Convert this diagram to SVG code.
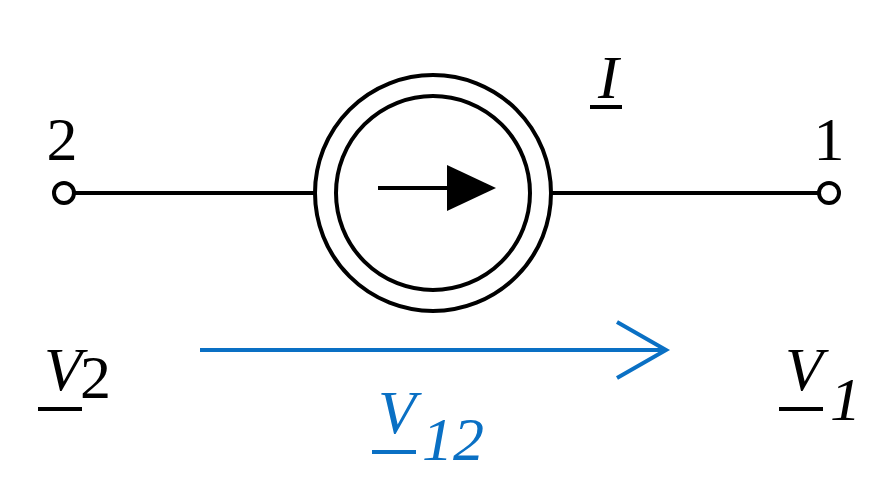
<svg xmlns="http://www.w3.org/2000/svg" width="881" height="486" viewBox="0 0 881 486">
<style>
.w{stroke:#000;stroke-width:4;fill:none}
.t{font-family:"Liberation Serif",serif;font-size:62px}
.i{font-style:italic}
.b{fill:#0a70c4}
</style>
<rect width="881" height="486" fill="#fff"/>
<g id="connectors">
<line class="w" x1="74" y1="193" x2="315" y2="193"/>
<line class="w" x1="551" y1="193" x2="819" y2="193"/>
<line x1="200" y1="350" x2="666" y2="350" stroke="#0a70c4" stroke-width="4"/>
<polyline points="617,322 666,350 617,378" fill="none" stroke="#0a70c4" stroke-width="4"/>
</g>
<g id="source">
<circle class="w" cx="433" cy="193" r="118"/>
<circle class="w" cx="433" cy="193" r="97"/>
<line class="w" x1="378" y1="188" x2="452" y2="188"/>
<polygon points="447,165 496,188 447,211" fill="#000"/>
</g>
<g id="term2"><circle class="w" cx="64" cy="193" r="10" fill="#fff"/><text class="t" x="62" y="160" text-anchor="middle">2</text></g>
<g id="term1"><circle class="w" cx="829" cy="193" r="10" fill="#fff"/><text class="t" x="829" y="160" text-anchor="middle">1</text></g>
<g id="labelI"><text class="t i" x="598" y="98">I</text><line class="w" x1="590" y1="107" x2="622" y2="107"/></g>
<g id="labelV2"><text class="t i" x="44" y="390">V</text><text class="t" x="80" y="398" font-size="42">2</text><line class="w" x1="38" y1="409" x2="82" y2="409"/></g>
<g id="labelV1"><text class="t i" x="785" y="390">V</text><text class="t i" x="830" y="420" font-size="42">1</text><line class="w" x1="779" y1="409" x2="823" y2="409"/></g>
<g id="labelV12"><text class="t i b" x="378" y="433">V</text><text class="t i b" x="422" y="460" font-size="42">12</text><line x1="372" y1="452" x2="416" y2="452" stroke="#0a70c4" stroke-width="4"/></g>
</svg>
